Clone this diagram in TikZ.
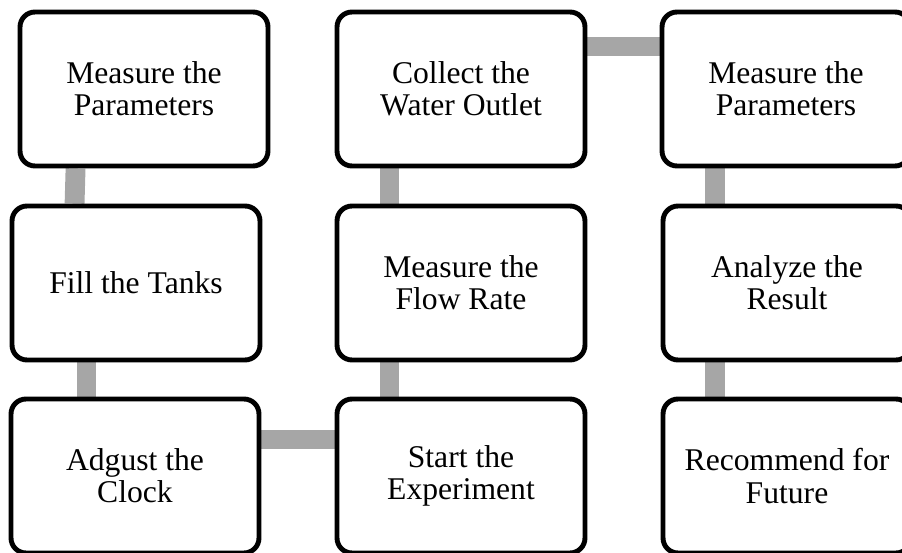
\documentclass[tikz,border=0pt]{standalone}
\usepackage{fontspec}
\setmainfont{Liberation Serif}
\usepackage{xcolor}
\usetikzlibrary{positioning,calc,backgrounds}

\definecolor{linkgray}{RGB}{166,166,166}
\tikzset{
    stepbox/.style={draw=black, line width=2.8pt, rounded corners=8.5pt, fill=white,
        minimum width=4.96cm, minimum height=3.08cm, inner sep=0pt, align=center,
        font=\fontsize{18}{18.4}\selectfont},
    link/.style={draw=linkgray, line width=11.3pt}
}

\begin{document}
\begin{tikzpicture}[x=0.02cm, y=-0.02cm]
    \clip (0,0) rectangle (902,553);

    % First column
    \node [stepbox] (param1) at (144, 89) {Measure the\\Parameters};
    \node [stepbox] (fill) at (136, 283) {Fill the Tanks};
    \node [stepbox] (clock) at (135, 476) {Adgust the\\Clock};

    % Second column
    \node [stepbox] (collect) at (461, 89) {Collect the\\Water Outlet};
    \node [stepbox] (flow) at (461, 283) {Measure the\\Flow Rate};
    \node [stepbox] (start) at (461, 476) {Start the\\Experiment};

    % Third column
    \node [stepbox] (param2) at (786, 89) {Measure the\\Parameters};
    \node [stepbox] (analyze) at (787, 283) {Analyze the\\Result};
    \node [stepbox] (recommend) at (787, 476) {Recommend for\\Future};

    % Links behind the boxes
    \begin{scope}[on background layer]
        \draw [link] ($(param1.south west)+(58,0)$) -- ($(fill.north west)+(65,0)$);
        \draw [link] ($(fill.south west)+(77,0)$) -- ($(clock.north west)+(78,0)$);
        \draw [link] ($(clock.north east)+(0,43)$) -- ($(start.north west)+(0,43)$);
        \draw [link] ($(start.north west)+(55,0)$) -- ($(flow.south west)+(55,0)$);
        \draw [link] ($(flow.north west)+(55,0)$) -- ($(collect.south west)+(55,0)$);
        \draw [link] ($(collect.north east)+(0,37)$) -- ($(param2.north west)+(0,37)$);
        \draw [link] ($(param2.south west)+(55,0)$) -- ($(analyze.north west)+(54,0)$);
        \draw [link] ($(analyze.south west)+(54,0)$) -- ($(recommend.north west)+(54,0)$);
    \end{scope}
\end{tikzpicture}
\end{document}
